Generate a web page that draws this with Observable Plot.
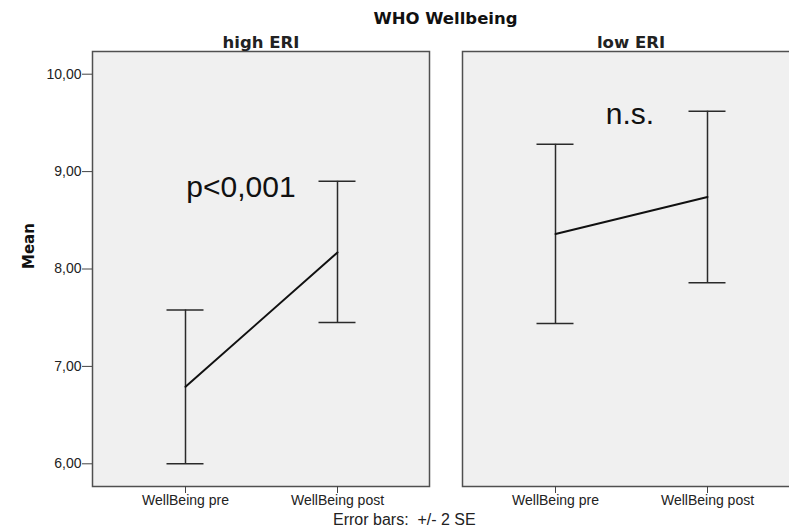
<!DOCTYPE html>
<html>
<head>
<meta charset="utf-8">
<script src="https://cdn.jsdelivr.net/npm/d3@7"></script>
<script src="https://cdn.jsdelivr.net/npm/@observablehq/plot@0.6"></script>
<style>
  html, body { margin: 0; padding: 0; background: #fff; overflow: hidden; }
  #wrap { position: relative; width: 800px; height: 530px; }
  #title {
    position: absolute; left: 92px; width: 707px; top: 11px;
    text-align: center; font: bold 16.5px "DejaVu Sans", sans-serif; line-height: 1; color: #111;
  }
  #chart { position: absolute; left: 0; top: 30px; }
  #caption {
    position: absolute; left: 333px; top: 512px; white-space: pre;
    font: 16px "Liberation Sans", Arial, sans-serif; line-height: 1; color: #222;
  }
</style>
</head>
<body>
<div id="wrap">
  <div id="title">WHO Wellbeing</div>
  <div id="chart"></div>
  <div id="caption">Error bars:  +/- 2 SE</div>
</div>
<script>
// Groups (panels) and measurement occasions
const panels = ["high ERI", "low ERI"];
const times = ["WellBeing pre", "WellBeing post"];

// Means and ±2 SE limits, ordered high pre, high post, low pre, low post
const means = [6.79, 8.17, 8.36, 8.74];
const lower = [6.00, 7.45, 7.44, 7.86];
const upper = [7.58, 8.90, 9.28, 9.62];

// Y-axis ticks
const yTicks = [6, 7, 8, 9, 10];

// Significance notes per panel
const noteText = ["p<0,001", "n.s."];
const noteY = [8.84, 9.59];

const rows = panels.flatMap((panel, i) =>
  times.map((time, j) => ({
    panel, time,
    mean: means[i * 2 + j],
    lo: lower[i * 2 + j],
    hi: upper[i * 2 + j]
  }))
);
const notes = panels.map((panel, i) => ({panel, text: noteText[i], y: noteY[i]}));
const yLabel = [{panel: panels[0], text: "Mean"}];

const comma = d => d.toFixed(2).replace(".", ",");
const barStyle = {stroke: "#2a2a2a", strokeWidth: 1.5};

const chart = Plot.plot({
  width: 800,
  height: 482,
  marginTop: 21,
  marginBottom: 26,
  marginLeft: 92,
  marginRight: 1,
  style: {fontFamily: "'Liberation Sans', Arial, sans-serif", fontSize: "14px", color: "#222", background: "transparent"},
  fx: {domain: panels, paddingInner: 0.0892, paddingOuter: 0},
  x: {type: "point", domain: times, padding: 0.606},
  y: {domain: [5.767, 10.233]},
  marks: [
    Plot.frame({fill: "#f0f0f0", stroke: "#505050", strokeWidth: 1.5}),
    Plot.axisFx({anchor: "top", label: null, tickSize: 0, tickPadding: 4,
      fontSize: 16.5, fontWeight: "bold", fontFamily: "'DejaVu Sans', sans-serif"}),
    Plot.axisY({ticks: yTicks, tickFormat: comma, tickSize: 10, tickPadding: 1,
      label: null, stroke: "#444"}),
    Plot.axisX({anchor: "bottom", label: null, tickSize: 7, tickPadding: 2, stroke: "#444"}),
    Plot.text(yLabel, {fx: "panel", text: "text", frameAnchor: "left", dx: -63, rotate: -90,
      fontSize: 15, fontWeight: "bold", fontFamily: "'DejaVu Sans', sans-serif", fill: "#111"}),
    // error bars: vertical span and caps
    Plot.ruleX(rows, {fx: "panel", x: "time", y1: "lo", y2: "hi", ...barStyle}),
    Plot.ruleY(rows, {fx: "panel", x1: "time", x2: "time", y: "hi", insetLeft: -18.5, insetRight: -18.5, ...barStyle}),
    Plot.ruleY(rows, {fx: "panel", x1: "time", x2: "time", y: "lo", insetLeft: -18.5, insetRight: -18.5, ...barStyle}),
    // means joined within each panel
    Plot.line(rows, {fx: "panel", x: "time", y: "mean", stroke: "#111", strokeWidth: 2}),
    // significance notes
    Plot.text(notes.slice(0, 1), {fx: "panel", y: "y", text: "text", frameAnchor: "middle", dx: -20, fontSize: 30, fill: "#111"}),
    Plot.text(notes.slice(1), {fx: "panel", y: "y", text: "text", frameAnchor: "middle", dx: -1, fontSize: 30, fill: "#111"})
  ]
});
document.getElementById("chart").append(chart);
</script>
</body>
</html>
